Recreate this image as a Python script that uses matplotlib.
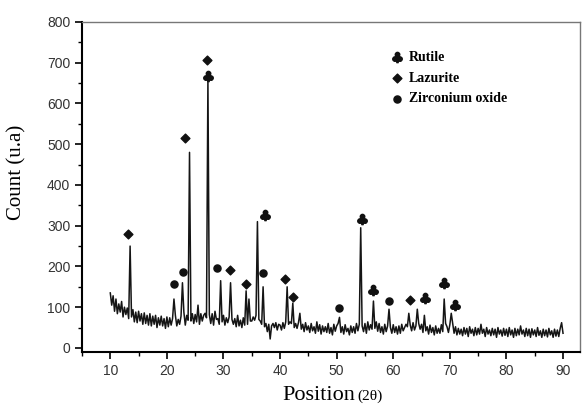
import numpy as np
import matplotlib.pyplot as plt
from matplotlib.ticker import MultipleLocator

# background trace, 0.25 deg steps from 10 to 90
two_theta = np.arange(10, 90.01, 0.25)
background = [
    135, 105, 128, 90,
    120, 84, 108, 88,
    114, 76, 100, 82,
    98, 72, 102, 76,
    94, 64, 88, 62,
    90, 66, 84, 58,
    86, 60, 80, 56,
    84, 54, 78, 58,
    80, 50, 74, 56,
    78, 54, 72, 48,
    76, 52, 74, 56,
    72, 50, 80, 54,
    70, 58, 78, 66,
    88, 56, 80, 68,
    92, 66, 84, 60,
    82, 64, 95, 58,
    84, 66, 80, 85,
    74, 88, 82, 60,
    84, 56, 90, 70,
    72, 58, 86, 64,
    80, 56, 74, 62,
    76, 85, 70, 58,
    72, 52, 80, 54,
    68, 50, 74, 56,
    80, 58, 86, 66,
    66, 76, 68, 80,
    86, 70, 66, 58,
    70, 52, 60, 40,
    58, 22, 54, 60,
    50, 62, 44, 58,
    56, 44, 62, 48,
    64, 46, 58, 64,
    60, 70, 50, 60,
    48, 62, 75, 46,
    58, 40, 62, 44,
    54, 38, 60, 42,
    52, 36, 64, 41,
    57, 34, 54, 40,
    52, 38, 60, 36,
    50, 32, 58, 41,
    54, 60, 50, 38,
    52, 34, 57, 40,
    48, 32, 54, 38,
    52, 36, 60, 42,
    58, 44, 54, 40,
    60, 36, 64, 44,
    57, 46, 62, 48,
    64, 41, 60, 38,
    52, 34, 58, 40,
    54, 60, 50, 36,
    57, 38, 52, 34,
    54, 36, 58, 42,
    50, 58, 52, 38,
    56, 42, 62, 44,
    54, 40, 60, 46,
    58, 38, 64, 42,
    52, 34, 56, 38,
    50, 32, 54, 36,
    48, 36, 57, 40,
    54, 60, 52, 38,
    57, 44, 60, 36,
    52, 32, 48, 34,
    46, 30, 50, 34,
    48, 28, 52, 36,
    46, 30, 50, 32,
    48, 34, 58, 36,
    46, 28, 50, 34,
    44, 30, 48, 32,
    46, 26, 50, 34,
    44, 29, 48, 31,
    46, 28, 50, 32,
    44, 26, 48, 30,
    46, 32, 54, 34,
    44, 28, 48, 30,
    46, 26, 47, 32,
    44, 28, 50, 31,
    42, 26, 46, 30,
    44, 27, 48, 32,
    42, 26, 46, 29,
    44, 28, 48, 62,
    36,
]

# diffraction peaks
peak_pos = [13.5, 21.25, 22.75, 24.0, 25.5, 27.25, 29.5, 31.25, 34.0, 34.5,
            36.0, 37.0, 41.25, 42.25, 43.5, 50.5, 54.25, 56.5, 59.25, 62.75,
            64.25, 65.5, 69.0, 70.25]
peak_int = [250, 120, 160, 480, 105, 660, 165, 160, 140, 120,
            310, 150, 150, 110, 85, 75, 295, 115, 95, 85,
            95, 80, 120, 85]

# phase markers
rutile_x = [27.3, 37.4, 54.5, 56.4, 65.6, 69.0, 70.9]
rutile_y = [667, 326, 317, 142, 123, 160, 106]
lazurite_x = [13.2, 23.2, 27.0, 31.2, 34.0, 40.9, 42.3, 63.0]
lazurite_y = [280, 515, 707, 191, 157, 169, 125, 118]
zirc_x = [21.3, 22.9, 28.9, 37.0, 50.4, 59.3]
zirc_y = [157, 186, 196, 184, 98, 115]

counts = np.array(background, dtype=float)
for p, h in zip(peak_pos, peak_int):
    i = np.argmin(np.abs(two_theta - p))
    counts[i] = h

fig = plt.figure(figsize=(5.83, 4.09), dpi=100)
ax = fig.add_axes([82 / 583, 1 - 352 / 409, 498 / 583, 330 / 409])

ax.plot(two_theta, counts, color='#151515', lw=1.1)

ax.scatter(rutile_x, rutile_y, marker=r'$\clubsuit$', s=55, color='#111', label='Rutile', zorder=3)
ax.scatter(lazurite_x, lazurite_y, marker='D', s=20, color='#111', label='Lazurite', zorder=3)
ax.scatter(zirc_x, zirc_y, marker='o', s=26, color='#111', label='Zirconium oxide', zorder=3)

ax.set_xlim(5, 93)
ax.set_ylim(-10, 800)
ax.xaxis.set_major_locator(MultipleLocator(10))
ax.xaxis.set_minor_locator(MultipleLocator(5))
ax.yaxis.set_major_locator(MultipleLocator(100))
ax.yaxis.set_minor_locator(MultipleLocator(50))
ax.tick_params(which='major', direction='out', length=5, width=1.2, labelsize=10,
               labelcolor='#333')
ax.tick_params(which='minor', direction='out', length=3, width=1.0)
for lab in ax.get_xticklabels() + ax.get_yticklabels():
    lab.set_family('Liberation Sans')
for s in ['left', 'bottom']:
    ax.spines[s].set_linewidth(1.5)
for s in ['top', 'right']:
    ax.spines[s].set_linewidth(1.0)
    ax.spines[s].set_color('#777')

ax.legend(loc='upper left', bbox_to_anchor=(0.59, 0.95), frameon=False,
          prop={'family': 'Liberation Serif', 'weight': 'bold', 'size': 10},
          handletextpad=0.3, labelspacing=0.55, handlelength=1.2)

fig.text(0.609, 0.022, 'Position', family='Liberation Serif', size=16,
         ha='right', va='baseline')
fig.text(0.613, 0.022, '(2θ)', family='Liberation Serif', size=11,
         ha='left', va='baseline')
ax.set_ylabel('Count (u.a)', family='Liberation Serif', size=15)
ax.yaxis.set_label_coords(-0.112, 0.545)

fig.savefig('out.png', dpi=100)
